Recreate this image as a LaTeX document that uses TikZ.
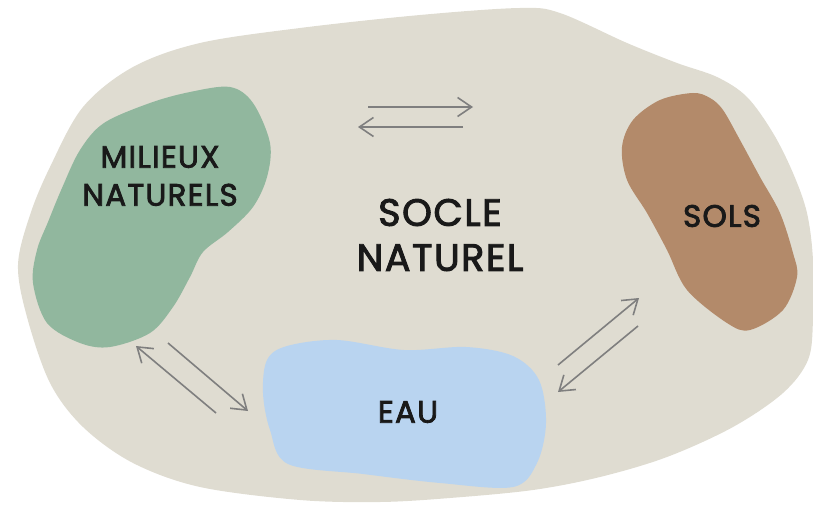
\documentclass[tikz,border=0pt]{standalone}
\usepackage{fontspec}
\setmainfont{Poppins}[LetterSpace=4,FakeBold=2.5]
\usetikzlibrary{arrows.meta}
\definecolor{bgbeige}{HTML}{DFDCD1}
\definecolor{greenblob}{HTML}{91B79E}
\definecolor{brownblob}{HTML}{B38A6A}
\definecolor{blueblob}{HTML}{B9D4F0}
\definecolor{arrowgray}{HTML}{7F7F7F}
\tikzset{
  lbl/.style={font=\fontsize{31}{38}\selectfont, align=center, text=black!90, inner sep=0pt},
  biglbl/.style={font=\fontsize{38}{45}\selectfont, align=center, text=black!90, inner sep=0pt},
  flow/.style={draw=arrowgray, line width=1.6pt, -{Straight Barb[length=14pt,width=19pt]}}
}
\begin{document}
\begin{tikzpicture}[x=1pt,y=-1pt]
\useasboundingbox (0,0) rectangle (813,505);
% background blob
\fill[bgbeige] plot[smooth cycle, tension=0.55] coordinates {
 (50,167) (83,107) (133,67) (200,43) (300,28) (420,15) (520,8) (560,13) (627,43) (677,63) (717,77)
 (747,97) (773,133) (793,173) (807,213) (813,260) (813,320) (808,360) (783,393) (733,427) (667,457)
 (600,477) (533,490) (450,498) (380,502) (300,500) (200,487) (133,463) (83,427) (50,383) (27,317)
 (18,265) (30,215)};
% green
\fill[greenblob] plot[smooth cycle, tension=0.55] coordinates {
 (230,87) (253,103) (270,143) (267,177) (253,207) (228,232) (203,252) (190,277) (173,307) (150,333)
 (110,347) (80,343) (47,323) (33,283) (37,250) (48,222) (62,188) (80,150) (104,123) (150,103) (190,92)};
% brown
\fill[brownblob] plot[smooth cycle, tension=0.55] coordinates {
 (693,93) (710,98) (723,110) (740,140) (760,177) (780,213) (793,253) (797,277) (783,310) (750,330)
 (727,323) (687,290) (667,250) (647,213) (627,180) (622,147) (633,120) (660,100)};
% blue
\fill[blueblob] plot[smooth cycle, tension=0.55] coordinates {
 (287,346) (337,340) (404,350) (466,347) (513,356) (539,380) (546,423) (537,463) (513,487) (440,483)
 (363,474) (288,464) (270,430) (263,393) (267,360)};
% labels
\node[lbl] (milieux) at (160,176) {MILIEUX\\NATURELS};
\node[biglbl] (socle) at (440,235) {SOCLE\\NATUREL};
\node[lbl] (sols) at (722,216) {SOLS};
\node[lbl] (eau) at (408,412) {EAU};
% arrow end points
\coordinate (t1s) at (368,107); \coordinate (t1e) at (473,107);
\coordinate (t2s) at (463,127); \coordinate (t2e) at (358,127);
\coordinate (l1s) at (216,413); \coordinate (l1e) at (136,346);
\coordinate (l2s) at (168,343); \coordinate (l2e) at (248,411);
\coordinate (r1s) at (558,365); \coordinate (r1e) at (639,298);
\coordinate (r2s) at (638,326); \coordinate (r2e) at (558,392);
\draw[flow] (t1s) -- (t1e);
\draw[flow] (t2s) -- (t2e);
\draw[flow] (l1s) -- (l1e);
\draw[flow] (l2s) -- (l2e);
\draw[flow] (r1s) -- (r1e);
\draw[flow] (r2s) -- (r2e);
\end{tikzpicture}
\end{document}
